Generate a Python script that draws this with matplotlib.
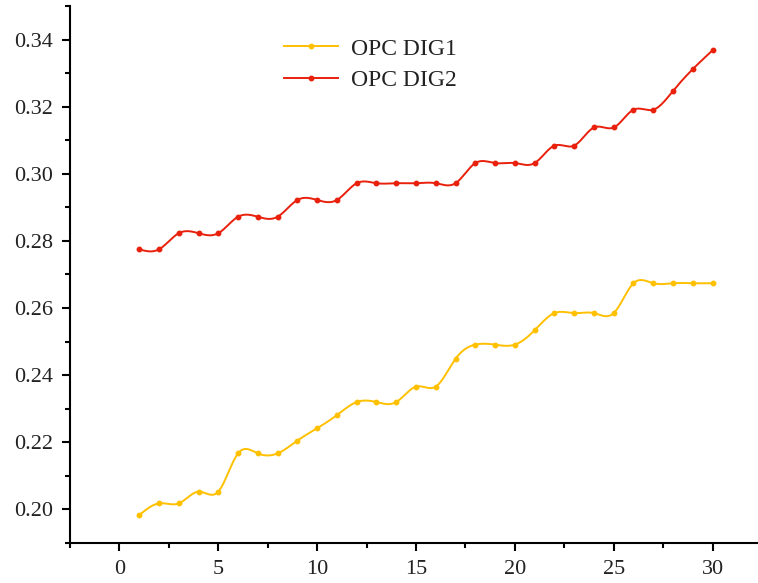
import numpy as np
import matplotlib
matplotlib.use("Agg")
import matplotlib.pyplot as plt
from matplotlib.lines import Line2D
from matplotlib.ticker import MultipleLocator, FormatStrFormatter

# ---- data ----
x = list(range(1, 31))
dig1 = [0.1983, 0.2018, 0.2018, 0.2053, 0.2053, 0.2167, 0.2167, 0.2167, 0.2205, 0.2242,
        0.2281, 0.2320, 0.2320, 0.2320, 0.2366, 0.2366, 0.2449, 0.2491, 0.2491, 0.2491,
        0.2534, 0.2585, 0.2585, 0.2585, 0.2585, 0.2674, 0.2674, 0.2674, 0.2674, 0.2674]
dig2 = [0.2775, 0.2775, 0.2823, 0.2823, 0.2823, 0.2872, 0.2872, 0.2872, 0.2922, 0.2922,
        0.2922, 0.2972, 0.2972, 0.2972, 0.2972, 0.2972, 0.2972, 0.3032, 0.3032, 0.3032,
        0.3032, 0.3084, 0.3084, 0.3138, 0.3138, 0.3191, 0.3191, 0.3247, 0.3312, 0.3368]
labels = ["OPC DIG1", "OPC DIG2"]
colors = ["#FFC000", "#E8200C"]


def natural_spline(xs, ys, per=20):
    xs = np.asarray(xs, float)
    ys = np.asarray(ys, float)
    n = len(xs)
    h = np.diff(xs)
    A = np.zeros((n, n))
    b = np.zeros(n)
    A[0, 0] = 1
    A[-1, -1] = 1
    for i in range(1, n - 1):
        A[i, i - 1] = h[i - 1]
        A[i, i] = 2 * (h[i - 1] + h[i])
        A[i, i + 1] = h[i]
        b[i] = 6 * ((ys[i + 1] - ys[i]) / h[i] - (ys[i] - ys[i - 1]) / h[i - 1])
    M = np.linalg.solve(A, b)
    xo, yo = [], []
    for i in range(n - 1):
        t = np.linspace(xs[i], xs[i + 1], per, endpoint=(i == n - 2))
        a = xs[i + 1] - t
        c = t - xs[i]
        y = (M[i] * a ** 3 + M[i + 1] * c ** 3) / (6 * h[i]) \
            + (ys[i] / h[i] - M[i] * h[i] / 6) * a \
            + (ys[i + 1] / h[i] - M[i + 1] * h[i] / 6) * c
        xo.append(t)
        yo.append(y)
    return np.concatenate(xo), np.concatenate(yo)


plt.rcParams['font.family'] = ['Liberation Serif', 'DejaVu Serif']

fig = plt.figure(figsize=(7.58, 5.83), dpi=100)
ax = fig.add_axes([70 / 758, 40 / 583, 692 / 758, 537 / 583])

handles = []
for ys, col, lab in zip([dig1, dig2], colors, labels):
    sx, sy = natural_spline(x, ys)
    ax.plot(sx, sy, color=col, lw=1.4, solid_capstyle='round')
    ax.plot(x, ys, linestyle='none', marker='o', ms=3.2, color=col, mec=col)
    handles.append(Line2D([], [], color=col, lw=1.4, marker='o', ms=3.2, mec=col))

ax.set_xlim(-2.5, 32.5)
ax.set_ylim(0.19, 0.35)
ax.xaxis.set_major_locator(MultipleLocator(5))
ax.xaxis.set_minor_locator(MultipleLocator(2.5))
ax.yaxis.set_major_locator(MultipleLocator(0.02))
ax.yaxis.set_minor_locator(MultipleLocator(0.01))
ax.yaxis.set_major_formatter(FormatStrFormatter('%.2f'))

for s in ['top', 'right']:
    ax.spines[s].set_visible(False)
for s in ['left', 'bottom']:
    ax.spines[s].set_linewidth(1.5)
ax.tick_params(which='major', direction='out', length=6, width=1.5, labelsize=16, pad=6,
               colors='black', labelcolor='#222222')
ax.tick_params(which='minor', direction='out', length=3.5, width=1.5)

leg = fig.legend(handles, labels, loc='upper left', bbox_to_anchor=(284 / 758, 1 - 38 / 583),
                 frameon=False, fontsize=17, handlelength=2.3, handletextpad=0.55,
                 labelspacing=0.42, borderpad=0, borderaxespad=0)
for t in leg.get_texts():
    t.set_color('#222222')

fig.savefig('out.png', dpi=100)
